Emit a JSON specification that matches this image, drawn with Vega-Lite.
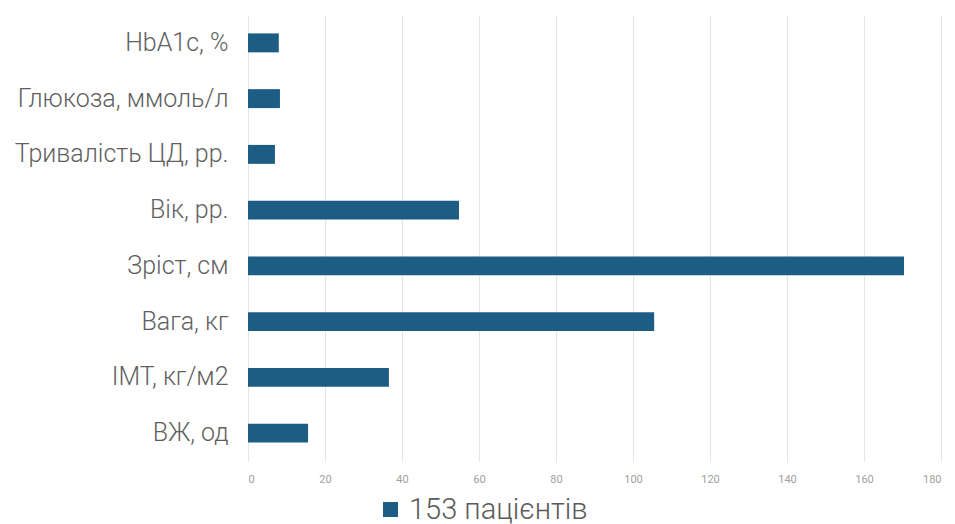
{
  "$schema": "https://vega.github.io/schema/vega-lite/v6.json",
  "width": 693,
  "height": 446,
  "autosize": {"type": "none"},
  "padding": {"left": 248, "top": 15, "right": 14, "bottom": 63},
  "background": "white",
  "config": {"view": {"stroke": null}, "font": "Roboto"},
  "data": {
    "values": [
      {"category": "HbA1c, %", "value": 8.0, "series": "153 пацієнтів"},
      {"category": "Глюкоза, ммоль/л", "value": 8.3, "series": "153 пацієнтів"},
      {"category": "Тривалість ЦД, рр.", "value": 7.0, "series": "153 пацієнтів"},
      {"category": "Вік, рр.", "value": 54.8, "series": "153 пацієнтів"},
      {"category": "Зріст, см", "value": 170.4, "series": "153 пацієнтів"},
      {"category": "Вага, кг", "value": 105.5, "series": "153 пацієнтів"},
      {"category": "ІМТ, кг/м2", "value": 36.6, "series": "153 пацієнтів"},
      {"category": "ВЖ, од", "value": 15.6, "series": "153 пацієнтів"}
    ]
  },
  "mark": {"type": "bar"},
  "encoding": {
    "y": {
      "field": "category",
      "type": "nominal",
      "sort": null,
      "title": null,
      "scale": {"paddingInner": 0.66, "paddingOuter": 0.33},
      "axis": {
        "domain": false,
        "ticks": false,
        "labelFontSize": 25,
        "labelFontWeight": 300,
        "labelColor": "#5f5f5f",
        "labelPadding": 20,
        "labelFont": "Roboto",
        "labelLimit": 300
      }
    },
    "x": {
      "field": "value",
      "type": "quantitative",
      "title": null,
      "scale": {"domain": [0, 180], "nice": false},
      "axis": {
        "values": [0, 20, 40, 60, 80, 100, 120, 140, 160, 180],
        "domain": false,
        "ticks": false,
        "grid": true,
        "gridColor": "#e4e4e4",
        "labelFontSize": 11,
        "labelColor": "#a0a0a0",
        "labelPadding": 12,
        "labelFont": "Roboto"
      }
    },
    "color": {
      "field": "series",
      "type": "nominal",
      "scale": {"range": ["#1d5d84"]},
      "legend": {
        "title": null,
        "orient": "none",
        "legendX": 128,
        "legendY": 480,
        "symbolType": "square",
        "symbolSize": 225,
        "labelFontSize": 29,
        "labelFontWeight": 300,
        "labelOffset": 4,
        "labelLimit": 400,
        "labelColor": "#595959",
        "labelFont": "Roboto"
      }
    }
  }
}
